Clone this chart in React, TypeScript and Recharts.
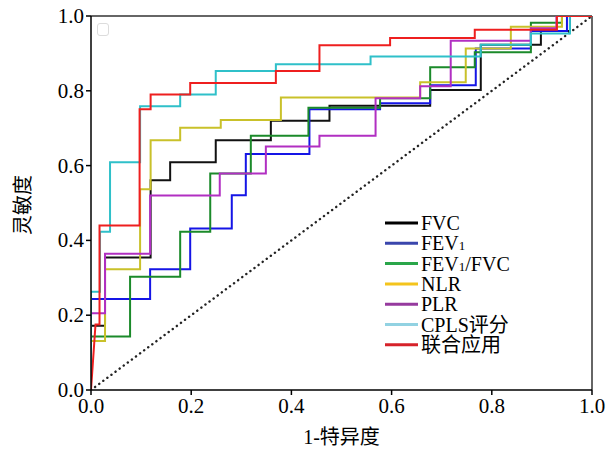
import { LineChart, Line, XAxis, YAxis, ReferenceLine, Legend, Label } from 'recharts';

// ROC points (1-specificity, sensitivity)
const fvcX = [0, 0, 0.028, 0.028, 0.119, 0.119, 0.158, 0.158, 0.249, 0.249, 0.359, 0.359, 0.476, 0.476, 0.677, 0.677, 0.778, 0.778, 0.898, 0.898, 0.956, 0.956, 1];
const fvcY = [0, 0.172, 0.172, 0.354, 0.354, 0.561, 0.561, 0.609, 0.609, 0.668, 0.668, 0.72, 0.72, 0.76, 0.76, 0.802, 0.802, 0.923, 0.923, 0.96, 0.96, 1, 1];

const fev1X = [0, 0, 0.118, 0.118, 0.198, 0.198, 0.281, 0.281, 0.309, 0.309, 0.436, 0.436, 0.577, 0.577, 0.677, 0.677, 0.768, 0.768, 0.878, 0.878, 0.95, 0.95, 1];
const fev1Y = [0, 0.243, 0.243, 0.323, 0.323, 0.432, 0.432, 0.521, 0.521, 0.631, 0.631, 0.751, 0.751, 0.767, 0.767, 0.815, 0.815, 0.913, 0.913, 0.96, 0.96, 1, 1];

const ratioX = [0, 0, 0.078, 0.078, 0.178, 0.178, 0.238, 0.238, 0.319, 0.319, 0.434, 0.434, 0.577, 0.577, 0.677, 0.677, 0.766, 0.766, 0.878, 0.878, 0.94, 0.94, 1];
const ratioY = [0, 0.143, 0.143, 0.303, 0.303, 0.423, 0.423, 0.579, 0.579, 0.68, 0.68, 0.755, 0.755, 0.78, 0.78, 0.863, 0.863, 0.903, 0.903, 0.982, 0.982, 1, 1];

const nlrX = [0, 0, 0.028, 0.028, 0.098, 0.098, 0.119, 0.119, 0.178, 0.178, 0.259, 0.259, 0.379, 0.379, 0.657, 0.657, 0.748, 0.748, 0.838, 0.838, 0.94, 0.94, 1];
const nlrY = [0, 0.131, 0.131, 0.323, 0.323, 0.537, 0.537, 0.668, 0.668, 0.701, 0.701, 0.722, 0.722, 0.782, 0.782, 0.823, 0.823, 0.913, 0.913, 0.971, 0.971, 1, 1];

const plrX = [0, 0, 0.028, 0.028, 0.118, 0.118, 0.257, 0.257, 0.349, 0.349, 0.456, 0.456, 0.568, 0.568, 0.657, 0.657, 0.718, 0.718, 0.878, 0.878, 0.929, 0.929, 1];
const plrY = [0, 0.205, 0.205, 0.364, 0.364, 0.52, 0.52, 0.579, 0.579, 0.651, 0.651, 0.68, 0.68, 0.78, 0.78, 0.812, 0.812, 0.934, 0.934, 0.967, 0.967, 1, 1];

const cplsX = [0, 0, 0.018, 0.018, 0.038, 0.038, 0.098, 0.098, 0.178, 0.178, 0.249, 0.249, 0.369, 0.369, 0.558, 0.558, 0.778, 0.778, 0.878, 0.878, 0.956, 0.956, 1];
const cplsY = [0, 0.263, 0.263, 0.423, 0.423, 0.609, 0.609, 0.759, 0.759, 0.79, 0.79, 0.853, 0.853, 0.871, 0.871, 0.892, 0.892, 0.923, 0.923, 0.953, 0.953, 1, 1];

const combX = [0, 0.009, 0.017, 0.017, 0.097, 0.097, 0.119, 0.119, 0.198, 0.198, 0.369, 0.369, 0.456, 0.456, 0.597, 0.597, 0.766, 0.766, 0.93, 0.93, 1];
const combY = [0, 0.175, 0.175, 0.44, 0.44, 0.751, 0.751, 0.79, 0.79, 0.821, 0.821, 0.853, 0.853, 0.922, 0.922, 0.941, 0.941, 0.963, 0.963, 1, 1];

const diagX = [0, 1];
const diagY = [0, 1];

const ticks = [0, 0.2, 0.4, 0.6, 0.8, 1.0];

const seriesNames = ['FVC', 'FEV1', 'FEV1/FVC', 'NLR', 'PLR', 'CPLS评分', '联合应用'];
const lineColors = ['#111111', '#1515e6', '#1b8a2a', '#c9c12a', '#b12fc2', '#2fc0c9', '#ee1f1f'];
const legendColors = ['#000000', '#3a46ac', '#2aa64a', '#f4c41c', '#963a9e', '#92d2e2', '#d6222a'];

const toPoints = (xs: number[], ys: number[]) => xs.map((x, i) => ({ x, y: ys[i] }));

const seriesData = [
  toPoints(fvcX, fvcY),
  toPoints(fev1X, fev1Y),
  toPoints(ratioX, ratioY),
  toPoints(nlrX, nlrY),
  toPoints(plrX, plrY),
  toPoints(cplsX, cplsY),
  toPoints(combX, combY),
];

const serif = "Liberation Serif, DejaVu Serif, Noto Sans CJK SC, serif";

const XTick = ({ x, y, payload }: any) => (
  <text x={x} y={y + 16} textAnchor="middle" fontSize={21} fontFamily={serif} fill="#000">
    {Number(payload.value).toFixed(1)}
  </text>
);

const YTick = ({ x, y, payload }: any) => (
  <text x={x} y={y + 7} textAnchor="end" fontSize={21} fontFamily={serif} fill="#000">
    {Number(payload.value).toFixed(1)}
  </text>
);

const LegendBox = () => (
  <svg width={200} height={150}>
    {seriesNames.map((name, i) => {
      const cy = 13 + i * 20.3;
      return (
        <g key={name}>
          <line x1={5} x2={38} y1={cy} y2={cy} stroke={legendColors[i]} strokeWidth={3} />
          <text x={41} y={cy + 7} fontSize={20} fontFamily={serif} fill="#000">
            {name.startsWith('FEV1') ? (
              <>
                <tspan>FEV</tspan>
                <tspan fontSize={13}>1</tspan>
                <tspan>{name.slice(4)}</tspan>
              </>
            ) : name}
          </text>
        </g>
      );
    })}
  </svg>
);

const App = () => {
  return (
    <div style={{ position: 'absolute', left: 0, top: 0, width: 614, height: 452, background: '#fff' }}>
      <div style={{ position: 'absolute', left: 97, top: 23, width: 10, height: 11, border: '1.5px solid #dcdcdc', borderRadius: 3 }} />
      <LineChart width={614} height={452} margin={{ top: 16, right: 22, bottom: 0, left: 0 }}>
        <XAxis
          type="number"
          dataKey="x"
          domain={[0, 1]}
          ticks={ticks}
          tick={<XTick />}
          tickSize={5}
          height={62}
          stroke="#000"
          strokeWidth={1.5}
          allowDataOverflow
        >
          <Label
            content={({ viewBox }: any) => (
              <text x={viewBox.x + viewBox.width / 2} y={viewBox.y + 54} textAnchor="middle" fontSize={20} fontFamily={serif} fill="#000">
                1-特异度
              </text>
            )}
          />
        </XAxis>
        <YAxis
          type="number"
          dataKey="y"
          domain={[0, 1]}
          ticks={ticks}
          tick={<YTick />}
          tickSize={5}
          width={91}
          stroke="#000"
          strokeWidth={1.5}
          allowDataOverflow
        >
          <Label
            content={({ viewBox }: any) => {
              const cx = 23;
              const cy = viewBox.y + viewBox.height / 2 + 2;
              return (
                <text x={cx} y={cy} transform={`rotate(-90 ${cx} ${cy})`} textAnchor="middle" dominantBaseline="central" fontSize={20} fontFamily={serif} fill="#000">
                  灵敏度
                </text>
              );
            }}
          />
        </YAxis>
        <ReferenceLine y={1} stroke="#333" strokeWidth={1.5} />
        <ReferenceLine x={1} stroke="#333" strokeWidth={1.5} />
        <Line
          data={toPoints(diagX, diagY)}
          dataKey="y"
          stroke="#222"
          strokeWidth={2.4}
          strokeDasharray="0.1 5"
          strokeLinecap="round"
          dot={false}
          activeDot={false}
          legendType="none"
          isAnimationActive={false}
        />
        {seriesData.map((pts, i) => (
          <Line
            key={seriesNames[i]}
            data={pts}
            dataKey="y"
            name={seriesNames[i]}
            type="linear"
            stroke={lineColors[i]}
            strokeWidth={2}
            dot={false}
            activeDot={false}
            isAnimationActive={false}
          />
        ))}
        <Legend
          layout="vertical"
          align="center"
          verticalAlign="middle"
          content={() => <LegendBox />}
          wrapperStyle={{ position: 'absolute', left: 380, top: 210, width: 200, height: 150 }}
        />
      </LineChart>
    </div>
  );
};

export default App;
